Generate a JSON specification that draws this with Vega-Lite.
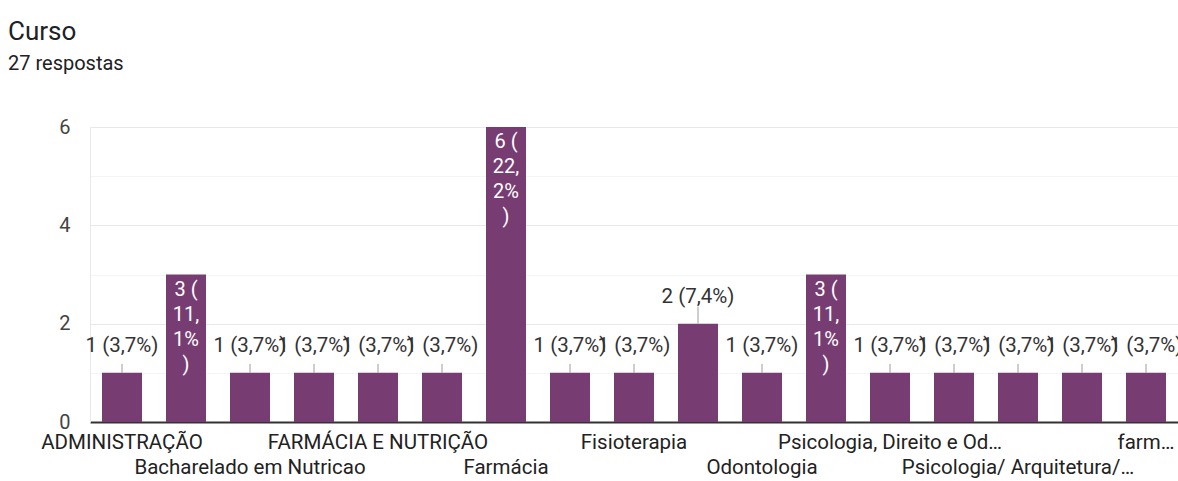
{
  "$schema": "https://vega.github.io/schema/vega-lite/v6.json",
  "autosize": {"type": "none"},
  "padding": {"left": 90, "top": 127, "right": 0, "bottom": 59},
  "width": 1088,
  "height": 295,
  "background": "white",
  "config": {"font": "Roboto", "view": {"stroke": null}},
  "title": {
    "text": "Curso",
    "subtitle": "27 respostas",
    "anchor": "start",
    "frame": "group",
    "dx": -82,
    "offset": 43,
    "font": "Roboto",
    "fontSize": 26,
    "fontWeight": "normal",
    "color": "#202124",
    "subtitleFont": "Roboto",
    "subtitleFontSize": 20,
    "subtitleColor": "#202124",
    "subtitlePadding": 9
  },
  "data": {
    "values": [
      {"curso": "ADMINISTRAÇÃO", "n": 1},
      {"curso": "Administração", "n": 3},
      {"curso": "Bacharelado em Nutricao", "n": 1},
      {"curso": "Biomedicina", "n": 1},
      {"curso": "FARMÁCIA E NUTRIÇÃO", "n": 1},
      {"curso": "Farmacia", "n": 1},
      {"curso": "Farmácia", "n": 6},
      {"curso": "Farmácia e Nutrição", "n": 1},
      {"curso": "Fisioterapia", "n": 1},
      {"curso": "Nutrição", "n": 2},
      {"curso": "Odontologia", "n": 1},
      {"curso": "Psicologia", "n": 3},
      {"curso": "Psicologia, Direito e Od…", "n": 1},
      {"curso": "Psicologia, Odontologia", "n": 1},
      {"curso": "Psicologia/ Arquitetura/…", "n": 1},
      {"curso": "Psicologia/ Direito", "n": 1},
      {"curso": "farm…", "n": 1}
    ]
  },
  "transform": [
    {"calculate": "datum.n + ' (' + replace(format(datum.n / 27 * 100, '.1f'), '.', ',') + '%)'", "as": "lbl"},
    {"calculate": "datum.n + ' (\\n' + replace(format(datum.n / 27 * 100, '.1f'), '.', ',\\n') + '%\\n)'", "as": "lbl2"}
  ],
  "encoding": {
    "x": {
      "field": "curso",
      "type": "nominal",
      "sort": null,
      "scale": {"paddingInner": 0.375, "paddingOuter": 0.1875},
      "axis": {
        "title": null,
        "ticks": false,
        "grid": false,
        "domainColor": "#333333",
        "domainWidth": 2,
        "labelAngle": 0,
        "labelFontSize": 20.5,
        "labelColor": "#222222",
        "labelPadding": 10,
        "labelBaseline": "top",
        "labelLineHeight": 25,
        "labelOverlap": false,
        "labelLimit": 500,
        "labelExpr": "indexof(['ADMINISTRAÇÃO','FARMÁCIA E NUTRIÇÃO','Fisioterapia','Psicologia, Direito e Od…','farm…'], datum.value) >= 0 ? datum.value : (indexof(['Bacharelado em Nutricao','Farmácia','Odontologia','Psicologia/ Arquitetura/…'], datum.value) >= 0 ? ['', datum.value] : '')"
      }
    },
    "y": {
      "field": "n",
      "type": "quantitative",
      "scale": {"domain": [0, 6], "nice": false},
      "axis": {
        "title": null,
        "values": [0, 1, 2, 3, 4, 5, 6],
        "ticks": false,
        "domain": true,
        "domainColor": "#e8e8e8",
        "labelExpr": "datum.value % 2 == 0 ? datum.label : ''",
        "labelFontSize": 20,
        "labelColor": "#444444",
        "labelPadding": 20,
        "gridColor": {"condition": {"test": "datum.value % 2 == 0", "value": "#e8e8e8"}, "value": "#f4f4f4"}
      }
    }
  },
  "layer": [
    {"mark": {"type": "bar", "color": "#773d73"}},
    {
      "transform": [{"filter": "datum.n == 1"}],
      "mark": {"type": "rule", "color": "#9e9e9e", "strokeWidth": 1, "y2Offset": -9},
      "encoding": {"y2": {"field": "n"}}
    },
    {
      "transform": [{"filter": "datum.n == 2"}],
      "mark": {"type": "rule", "color": "#9e9e9e", "strokeWidth": 1, "y2Offset": -17},
      "encoding": {"y2": {"field": "n"}}
    },
    {
      "transform": [{"filter": "datum.n < 3"}],
      "mark": {"type": "text", "baseline": "alphabetic", "dy": -21, "fontSize": 20.5, "color": "#333333"},
      "encoding": {"text": {"field": "lbl"}}
    },
    {
      "transform": [{"filter": "datum.n >= 3"}],
      "mark": {"type": "text", "baseline": "top", "dy": 5, "fontSize": 20, "color": "#ffffff", "lineBreak": "\n", "lineHeight": 25},
      "encoding": {"text": {"field": "lbl2"}}
    }
  ]
}
